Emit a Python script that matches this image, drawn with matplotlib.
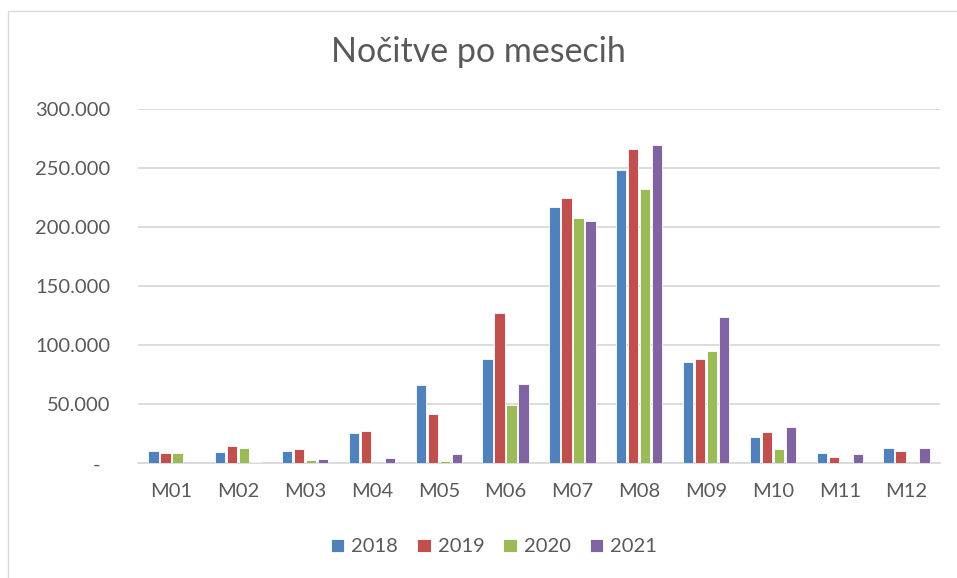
import matplotlib
matplotlib.use("Agg")
import matplotlib.pyplot as plt
import numpy as np
from matplotlib.patches import Rectangle

months = ["M01", "M02", "M03", "M04", "M05", "M06", "M07", "M08", "M09", "M10", "M11", "M12"]
years = ["2018", "2019", "2020", "2021"]
v2018 = [10400, 9900, 10400, 25700, 66100, 88400, 217500, 248600, 85900, 22300, 8500, 13000]
v2019 = [8500, 14700, 12100, 27400, 41800, 127000, 224600, 266400, 88700, 26600, 5400, 10400]
v2020 = [9000, 13300, 2800, 0, 2000, 49700, 208200, 232200, 95500, 12100, 0, 0]
v2021 = [0, 1100, 3700, 4500, 7600, 67000, 205100, 269800, 123700, 30500, 7900, 12700]
series = [v2018, v2019, v2020, v2021]
colors = ["#4F81BD", "#C0504D", "#9BBB59", "#8064A2"]
yticks = [0, 50000, 100000, 150000, 200000, 250000, 300000]
ytick_labels = ["", "50.000", "100.000", "150.000", "200.000", "250.000", "300.000"]

FONT = "Lato"
TXT = "#595959"
W, H = 957, 578
fig = plt.figure(figsize=(W / 100, H / 100), dpi=100)
fig.patch.set_facecolor("white")

# chart border
fig.add_artist(Rectangle((8 / W, -0.05), 1.2, 1.05 - 10.5 / H, transform=fig.transFigure,
                         fill=False, edgecolor="#D9D9D9", linewidth=1.0))

ax_l, ax_r = 138 / W, 940 / W
ax_b, ax_t = 1 - 463.3 / H, 1 - 109.3 / H
ax = fig.add_axes([ax_l, ax_b, ax_r - ax_l, ax_t - ax_b])

x = np.arange(len(months))
pitch = 0.18
width = 0.155
for i, (vals, c, yr) in enumerate(zip(series, colors, years)):
    ax.bar(x + (i - 1.5) * pitch, vals, width=width, color=c, edgecolor="white",
           linewidth=0.6, label=yr, zorder=3)

ax.set_xlim(-0.5, len(months) - 0.5)
ax.set_ylim(0, 300000)
ax.set_yticks(yticks)
ax.set_yticklabels(ytick_labels)
ax.set_xticks(x)
ax.set_xticklabels(months)
ax.tick_params(axis="both", length=0, labelsize=14.5, labelcolor=TXT)
ax.tick_params(axis="y", pad=20)
ax.tick_params(axis="x", pad=14)
for lbl in ax.get_xticklabels() + ax.get_yticklabels():
    lbl.set_fontfamily(FONT)
ax.grid(axis="y", color="#D9D9D9", linewidth=1.3, zorder=0)
ax.set_axisbelow(True)
for s in ["top", "right", "left"]:
    ax.spines[s].set_visible(False)
ax.spines["bottom"].set_color("#D9D9D9")
ax.spines["bottom"].set_linewidth(1.3)

# zero label "-"
fig.text(96 / W, 1 - 465 / H, "-", ha="center", va="center", fontsize=14.5,
         color=TXT, family=FONT)

fig.text(0.5, 1 - 52 / H, "Nočitve po mesecih", ha="center", va="center",
         fontsize=24.5, color=TXT, family=FONT)

leg = fig.legend(loc="center", bbox_to_anchor=(494 / W, 1 - 547 / H), ncol=4, frameon=False,
                 prop={"family": FONT, "size": 14.5}, handlelength=0.65, handleheight=0.65,
                 handletextpad=0.35, columnspacing=0.95)
for t in leg.get_texts():
    t.set_color(TXT)

fig.savefig("out.png", dpi=100)
